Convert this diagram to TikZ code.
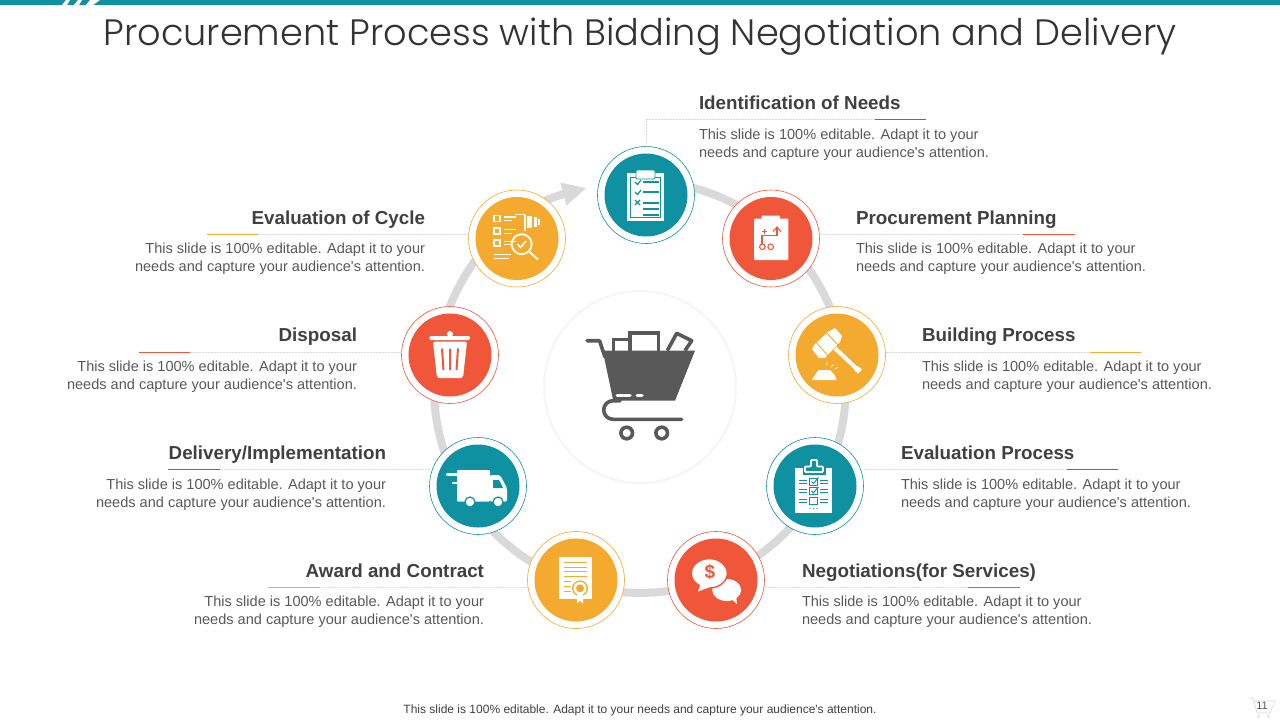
\documentclass[tikz,border=0pt]{standalone}
\usepackage{fontspec}
\setmainfont{Liberation Sans}
\newfontfamily\plainsans{Liberation Sans}
\newfontfamily\titlefont{Poppins Light}
\usetikzlibrary{positioning,arrows.meta,calc}
\definecolor{proteal}{HTML}{0F91A1}
\definecolor{prored}{HTML}{F0563A}
\definecolor{progold}{HTML}{F3AA2F}
\definecolor{proring}{HTML}{D9D9D9}
\definecolor{prodark}{HTML}{595959}
\definecolor{proink}{HTML}{404040}
\newcommand{\bodytxt}{This slide is 100\% editable. Adapt it to your\\needs and capture your audience's attention.}
\tikzset{
    every node/.style={inner sep=0pt,outer sep=0pt},
    stepring/.style={circle,draw=#1,fill=white,line width=0.6pt,minimum size=97pt},
    stepdisc/.style={circle,fill=#1,minimum size=83pt},
    heading/.style={font=\plainsans\fontsize{18.8}{22}\selectfont\bfseries,text=proink},
    bodyleft/.style={font=\plainsans\fontsize{14.55}{18}\selectfont,text=prodark,align=left},
    bodyright/.style={font=\plainsans\fontsize{14.55}{18}\selectfont,text=prodark,align=right},
    leader/.style={draw=proring,line width=0.5pt,dash pattern=on 2pt off 1pt},
    rule/.style={draw=#1,line width=1pt}
}
\begin{document}
\begin{tikzpicture}[x=1pt,y=-1pt]
\useasboundingbox (0,0) rectangle (1280,720);
\fill[white] (0,0) rectangle (1280,720);
% top band
\fill[proteal] (0,0) rectangle (1280,5);
\fill[white] (62,5) -- (66,0) -- (70,0) -- (67,5) -- cycle;
\fill[white] (74,5) -- (78,0) -- (82,0) -- (79,5) -- cycle;
\fill[white] (86,5) -- (90,0) -- (100,0) -- (93,5) -- cycle;
\node[font=\titlefont\fontsize{36.7}{44}\selectfont,text=black!80] (title) at (640,37) {Procurement Process with Bidding Negotiation and Delivery};
% ring and arrow
\draw[proring,line width=8pt,-{Triangle[length=24pt,width=22pt]}] (646,181) arc[start angle=-88.3,end angle=255,radius=206];
% hub
\node[circle,draw=black!4,fill=white,line width=2pt,minimum size=192pt] (hub) at (640,387) {};
\begin{scope}[shift={(hub.center)}]
\fill[prodark] (-37.3,-36.3) -- (55,-36.3) -- (35,13.7) -- (-26.7,13.7) -- cycle;
\draw[prodark,line width=3.6pt,line join=round,line cap=round] (-53,-46.3) -- (-40.5,-46.3) -- (-35,-30);
\draw[prodark,line width=3.6pt] (-26.7,-36.3) -- (-26.7,-47.7) -- (-10,-47.7);
\draw[prodark,line width=3.6pt] (-10,-36.3) -- (-10,-54.3) -- (18.3,-54.3) -- (18.3,-36.3);
\draw[prodark,line width=3.6pt,line join=round] (27.3,-36.3) -- (36.7,-53.7) -- (51.7,-46.3) -- (45,-36.3);
\draw[prodark,line width=3.6pt,line cap=round] (41.7,32.3) -- (-27,32.3) arc[start angle=90,end angle=270,radius=9.3] -- (-20,13.7);
\draw[prodark,line width=3.6pt] (-13.3,46) circle[radius=5.8];
\draw[prodark,line width=3.6pt] (21.7,46) circle[radius=5.8];
\draw[white,line width=3pt,line cap=round] (-23,8.7) -- (-10,8.7);
\draw[white,line width=3pt,line cap=round] (-3,8.7) -- (2,8.7);
\end{scope}
% steps
\node[stepring=proteal] (needsRing) at (646,195) {};
\node[stepdisc=proteal] (needs) at (646,195) {};
\node[stepring=prored] (planningRing) at (771,238.5) {};
\node[stepdisc=prored] (planning) at (771,238.5) {};
\node[stepring=progold] (buildingRing) at (837,355) {};
\node[stepdisc=progold] (building) at (837,355) {};
\node[stepring=proteal] (evalprocRing) at (815,486) {};
\node[stepdisc=proteal] (evalproc) at (815,486) {};
\node[stepring=prored] (negotiateRing) at (716,580) {};
\node[stepdisc=prored] (negotiate) at (716,580) {};
\node[stepring=progold] (awardRing) at (576,580) {};
\node[stepdisc=progold] (award) at (576,580) {};
\node[stepring=proteal] (deliveryRing) at (478,486) {};
\node[stepdisc=proteal] (delivery) at (478,486) {};
\node[stepring=prored] (disposalRing) at (450,355) {};
\node[stepdisc=prored] (disposal) at (450,355) {};
\node[stepring=progold] (cycleRing) at (517,238.5) {};
\node[stepdisc=progold] (cycle) at (517,238.5) {};
% clipboard
\begin{scope}[shift={(needs.center)}]
\fill[white] (-19.3,-21.7) rectangle (18,25.7);
\draw[proteal,line width=0.8pt] (-16,-18) rectangle (14.7,22.3);
\fill[white,draw=proteal,line width=0.8pt,rounded corners=1pt] (-10,-25) rectangle (9,-16);
\foreach \yy/\xx in {-13/-3,-3/-3,8/-3,14/-3,20/-3}{
  \draw[proteal,line width=1.3pt] (\xx,\yy) -- (13,\yy);
}
\draw[proteal,line width=1.2pt] (-11,-13) -- (-8.5,-10.5) -- (-5,-15);
\draw[proteal,line width=1.2pt] (-11,-3) -- (-8.5,-0.5) -- (-5,-5);
\draw[proteal,line width=1.2pt] (-11,5) -- (-6,10) (-11,10) -- (-6,5);
\end{scope}
% plan sheet
\begin{scope}[shift={(planning.center)}]
\fill[white,rounded corners=1pt] (-17,-20) rectangle (17.3,21.7);
\fill[white,rounded corners=1pt] (-9.3,-23) rectangle (9,-19);
\draw[prored,line width=1.1pt] (-9,5.5) -- (-9,-3.3) -- (6,-3.3) -- (6,-11);
\draw[prored,line width=1.1pt] (2,-7) -- (6,-11.5) -- (10,-7);
\draw[prored,line width=1.1pt] (-8.6,8.3) circle[radius=2.8];
\draw[prored,line width=1.1pt] (-0.3,8.3) circle[radius=2.8];
\draw[prored,line width=1.1pt] (-9,-6.7) -- (-4,-6.7) (-6.5,-9.2) -- (-6.5,-4.2);
\end{scope}
% gavel
\begin{scope}[shift={(building.center)}]
\fill[white] (-9,-23) -- (-2,-27) -- (5,-19) -- (3,-13) -- (-12,3) -- (-18,3) -- (-25,-6) -- (-22,-11) -- cycle;
\draw[progold,line width=0.9pt] (-12,-24) -- (2,-9) (-22,-14) -- (-8,2);
\draw[white,line width=4pt] (-2,-6.7) -- (21,15);
\draw[white,line width=5.5pt] (19,13) -- (23,16.7);
\fill[white] (-25.3,25) -- (-0.3,25) -- (-2.5,20) -- (-7,15) -- (-18.5,15) -- (-22,20) -- cycle;
\draw[white,line width=0.7pt] (-6,12) -- (-3.5,9.5) (-2.5,14) -- (1,12.5) (-10,10) -- (-10,7);
\end{scope}
% checklist
\begin{scope}[shift={(evalproc.center)}]
\fill[white] (-20,-17.7) rectangle (16.7,27.3);
\draw[proteal,fill=proteal,line width=0.5pt] (-12,-18) rectangle (10,-12);
\draw[white,line width=1.8pt,rounded corners=1pt] (-10,-14) -- (-10,-19.5) -- (-4,-19.5) -- (-4,-26) -- (2,-26) -- (2,-19.5) -- (8,-19.5) -- (8,-14) -- cycle;
\foreach \yy in {-4.3,5,14.7}{
  \draw[proteal,line width=1pt] (-5.5,\yy-3.5) rectangle (2.5,\yy+3.5);
  \draw[proteal,line width=1pt] (-16,\yy-1.5) -- (-8,\yy-1.5) (-16,\yy+1.5) -- (-8,\yy+1.5);
  \draw[proteal,line width=1pt] (5,\yy-1.5) -- (13,\yy-1.5) (5,\yy+1.5) -- (13,\yy+1.5);
}
\draw[proteal,line width=1pt] (-3.5,-4.5) -- (-1.5,-2.5) -- (3.5,-8.5);
\draw[proteal,line width=1pt] (-3.5,4.8) -- (-1.5,6.8) -- (3.5,0.8);
\foreach \xx in {-5,-1.5,2}{
  \fill[proteal] (\xx,22.5) circle[radius=0.6];
}
\end{scope}
% speech bubbles
\begin{scope}[shift={(negotiate.center)}]
\fill[white] (10.7,10) ellipse[x radius=14.5,y radius=11];
\fill[white] (13,17) -- (21,24) -- (20,15) -- cycle;
\fill[white,draw=prored,line width=1.4pt] (-6.7,-6.7) ellipse[x radius=18,y radius=14.7];
\fill[white] (-15,3) -- (-18,11.5) -- (-6,7) -- cycle;
\node[font=\plainsans\fontsize{19}{19}\selectfont\bfseries,text=prored] (dollar) at (-6,-7.5) {\$};
\end{scope}
% certificate
\begin{scope}[shift={(award.center)}]
\fill[white] (-17,-23.3) rectangle (16,19);
\foreach \yy in {-17.7,-13,-8.3,-3.6}{
  \draw[progold,line width=0.9pt] (-12,\yy) -- (11,\yy);
}
\foreach \yy in {1,6,11}{
  \draw[progold,line width=0.9pt] (-12,\yy) -- (-5,\yy);
}
\fill[progold] (4,8.3) circle[radius=8];
\fill[white] (4,8.3) circle[radius=6.5];
\fill[progold] (4,8.3) circle[radius=4];
\fill[white] (1,12) -- (1,23.5) -- (4,20.5) -- (7,23.5) -- (7,12) -- cycle;
\end{scope}
% truck
\begin{scope}[shift={(delivery.center)}]
\fill[white,rounded corners=1pt] (-21,-16) rectangle (12,15.7);
\fill[white,rounded corners=2pt] (12,-11) -- (22,-11) -- (29,2) -- (29,15.7) -- (12,15.7) -- cycle;
\fill[proteal] (15,-6) -- (21,-6) -- (25,2) -- (15,2) -- cycle;
\draw[proteal,line width=4.5pt] (-32,-11.5) -- (-21,-11.5);
\draw[proteal,line width=4pt] (-26,-3.3) -- (-21,-3.3);
\draw[white,line width=2.2pt,line cap=round] (-31,-11.5) -- (-14,-11.5);
\draw[white,line width=2.2pt,line cap=round] (-25,-3.3) -- (-16,-3.3);
\draw[proteal,line width=1.2pt,fill=white] (-8,16) circle[radius=5];
\draw[proteal,line width=1.2pt,fill=white] (20,16) circle[radius=5];
\end{scope}
% bin
\begin{scope}[shift={(disposal.center)}]
\fill[white] (0,-21) circle[radius=3];
\fill[white,rounded corners=1.5pt] (-20.7,-19) rectangle (20,-15);
\fill[white,rounded corners=2pt] (-17,-13.3) -- (17,-13.3) -- (13,23) -- (-13,23) -- cycle;
\draw[prored,line width=2pt] (-8,-6.5) -- (-6.5,15) (0,-6.5) -- (0,15) (8,-6.5) -- (6.5,15);
\end{scope}
% review sheet
\begin{scope}[shift={(cycle.center)}]
\foreach \yy in {-20,-7.3,4.3}{
  \draw[white,line width=1.7pt] (-23,\yy-3) rectangle (-17,\yy+3);
  \draw[white,line width=1.3pt] (-13,\yy-1.5) -- (-1,\yy-1.5);
  \draw[white,line width=0.8pt] (-13,\yy+2) -- (-5,\yy+2);
}
\draw[white,line width=1.6pt] (-2,-24) -- (8,-24) (8,-24) -- (8,-8);
\fill[white] (10,-23) rectangle (15,-11);
\fill[white] (17,-22) rectangle (19.5,-12);
\fill[white] (20.5,-20) rectangle (23,-14);
\draw[white,line width=1.5pt] (-23,16) -- (-6,16) (-23,20) -- (-8,20);
\draw[white,line width=1.8pt] (4.7,5.7) circle[radius=10];
\draw[white,line width=2pt] (12.5,13.5) -- (21,21);
\draw[white,line width=1.5pt] (0.5,5.5) -- (3.5,9) -- (9,2.5);
\end{scope}
% texts, clockwise from the top
\node[heading,anchor=base west] (needsT) at (699,109) {Identification of Needs};
\node[bodyleft,below=19.5pt of needsT.base west,anchor=north west] (needsB) {\bodytxt};
\node[heading,anchor=base west] (planningT) at (856,224) {Procurement Planning};
\node[bodyleft,below=18.5pt of planningT.base west,anchor=north west] (planningB) {\bodytxt};
\node[heading,anchor=base west] (buildingT) at (922,341) {Building Process};
\node[bodyleft,below=19.5pt of buildingT.base west,anchor=north west] (buildingB) {\bodytxt};
\node[heading,anchor=base west] (evalprocT) at (901,459) {Evaluation Process};
\node[bodyleft,below=19.5pt of evalprocT.base west,anchor=north west] (evalprocB) {\bodytxt};
\node[heading,anchor=base west] (negotiateT) at (802,577) {Negotiations(for Services)};
\node[bodyleft,below=18.5pt of negotiateT.base west,anchor=north west] (negotiateB) {\bodytxt};
\node[heading,anchor=base east] (awardT) at (484,577) {Award and Contract};
\node[bodyright,below=18.5pt of awardT.base east,anchor=north east] (awardB) {\bodytxt};
\node[heading,anchor=base east] (deliveryT) at (386,459) {Delivery/Implementation};
\node[bodyright,below=19.5pt of deliveryT.base east,anchor=north east] (deliveryB) {\bodytxt};
\node[heading,anchor=base east] (disposalT) at (357,341) {Disposal};
\node[bodyright,below=19.5pt of disposalT.base east,anchor=north east] (disposalB) {\bodytxt};
\node[heading,anchor=base east] (cycleT) at (425,224) {Evaluation of Cycle};
\node[bodyright,below=18.5pt of cycleT.base east,anchor=north east] (cycleB) {\bodytxt};
% leaders and coloured rules
\coordinate (needsA) at (875,119);
\coordinate (needsC) at (926,119);
\draw[leader] (needsRing.north) -- (needsRing.north |- needsA) -- (needsA);
\draw[rule=proteal] (needsA) -- (needsC);
\coordinate (planningA) at (1023,234.5);
\coordinate (planningC) at (1075,234.5);
\draw[leader] (planningRing.east |- planningA) -- (planningA);
\draw[rule=prored] (planningA) -- (planningC);
\coordinate (buildingA) at (1090,352);
\coordinate (buildingC) at (1141,352);
\draw[leader] (buildingRing.east |- buildingA) -- (buildingA);
\draw[rule=progold] (buildingA) -- (buildingC);
\coordinate (evalprocA) at (1067,469.5);
\coordinate (evalprocC) at (1118,469.5);
\draw[leader] (evalprocRing.east |- evalprocA) -- (evalprocA);
\draw[rule=proteal] (evalprocA) -- (evalprocC);
\coordinate (negotiateA) at (968,587);
\coordinate (negotiateC) at (1020,587);
\draw[leader] (negotiateRing.east |- negotiateA) -- (negotiateA);
\draw[rule=prored] (negotiateA) -- (negotiateC);
\coordinate (awardA) at (320,587);
\coordinate (awardC) at (268,587);
\draw[leader] (awardRing.west |- awardA) -- (awardA);
\draw[rule=progold] (awardA) -- (awardC);
\coordinate (deliveryA) at (220,469.5);
\coordinate (deliveryC) at (168,469.5);
\draw[leader] (deliveryRing.west |- deliveryA) -- (deliveryA);
\draw[rule=proteal] (deliveryA) -- (deliveryC);
\coordinate (disposalA) at (190,352);
\coordinate (disposalC) at (139,352);
\draw[leader] (disposalRing.west |- disposalA) -- (disposalA);
\draw[rule=prored] (disposalA) -- (disposalC);
\coordinate (cycleA) at (258,234.5);
\coordinate (cycleC) at (207,234.5);
\draw[leader] (cycleRing.west |- cycleA) -- (cycleA);
\draw[rule=progold] (cycleA) -- (cycleC);
% footer
\node[font=\plainsans\fontsize{12}{14}\selectfont,text=proink] (footer) at (640,710) {This slide is 100\% editable. Adapt it to your needs and capture your audience's attention.};
\node[font=\plainsans\fontsize{11}{12}\selectfont,text=prodark] (pageno) at (1262,706) {11};
\draw[proring,line width=0.6pt] (1249,698) -- (1253,698) -- (1257,713) -- (1270,713) -- (1275,701) -- (1254,701);
\draw[proring,line width=0.6pt] (1258.5,716.5) circle[radius=1.5] (1268.5,716.5) circle[radius=1.5];
\end{tikzpicture}
\end{document}
